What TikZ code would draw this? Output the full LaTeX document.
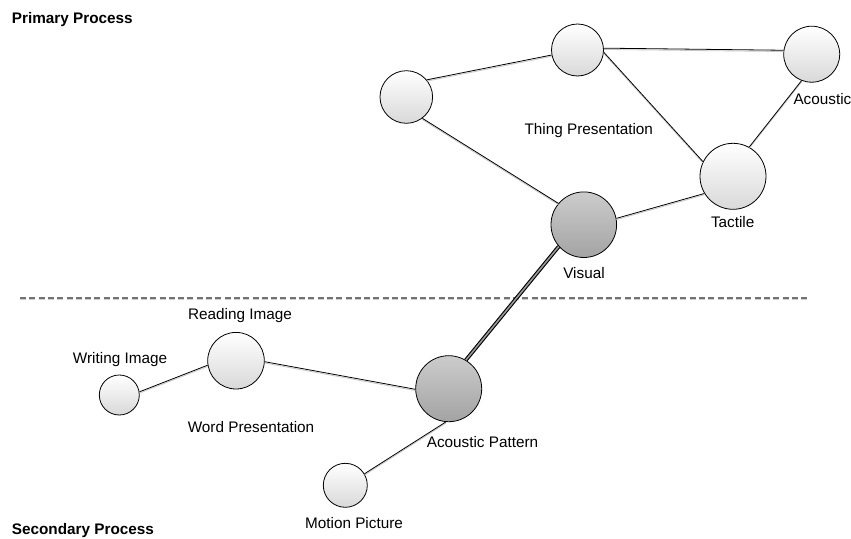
\documentclass[tikz,border=0pt]{standalone}
\usepackage{fontspec}
\setmainfont{Liberation Sans}
\begin{document}
\begin{tikzpicture}[x=1pt,y=-1pt,
  lbl/.style={inner sep=0pt, anchor=base, font=\fontsize{15.3}{18}\selectfont},
  hdr/.style={inner sep=0pt, anchor=base west, font=\fontsize{15.3}{18}\selectfont\bfseries},
  bubble/.style={circle, draw=black, line width=0.8pt, inner sep=0pt, minimum size=#1,
    top color=white, bottom color=black!15},
  hub/.style={circle, draw=black, line width=0.8pt, inner sep=0pt, minimum size=#1,
    top color=black!20, bottom color=black!36},
  link/.style={line width=0.8pt,
    preaction={draw=black!22, line width=0.8pt, transform canvas={yshift=-1.3pt}}},
  bond/.style={line width=1.1pt, double=black!40, double distance=1.6pt},
  divider/.style={line width=1.2pt, draw=black!55, dash pattern=on 6pt off 3.3pt,
    preaction={draw=black!20, line width=1.2pt, dash pattern=on 6pt off 3.3pt,
      transform canvas={yshift=-1.6pt}}}
]
\useasboundingbox (0,0) rectangle (851,538);
\fill[white] (0,0) rectangle (851,538);

% separator between the two processes
\coordinate (dl) at (20,298);
\coordinate (dr) at (809,298);
\draw[divider] (dl) -- (dr);

% primary process nodes
\node[bubble=52.6pt] (pl)  at (406.3,97)   {};
\node[bubble=52pt]   (pt)  at (577.5,50)   {};
\node[bubble=56pt]   (ac)  at (811.7,54.2) {};
\node[bubble=66pt]   (ta)  at (733,176.3)  {};
\node[hub=65.6pt]    (vi)  at (583.8,224.7) {};

% secondary process nodes
\node[bubble=40pt]   (wr)  at (119.3,395)  {};
\node[bubble=56.6pt] (rd)  at (236,360.7)  {};
\node[hub=66pt]      (ap)  at (448.7,388.7) {};
\node[bubble=44pt]   (mp)  at (345.3,485.3) {};

% connectors
\draw[link] (pl.40)  -- (pt.191);
\draw[link] (pl.-53) -- (vi.140);
\draw[link] (pt.4)   -- (ac.172);
\draw[link] (pt.-5)  -- (ta.154);
\draw[link] (ac.-111) -- (ta.61);
\draw[link] (ta.211) -- (vi.11);
\draw[link] (wr.9)   -- (rd.189);
\draw[link] (rd.-2)  -- (ap.181);
\draw[link] (ap.-95) -- (mp.31);
\draw[bond] (vi.221) -- (ap.59);

% labels
\node[hdr] (hp) at (11.7,23.8) {Primary Process};
\node[hdr] (hs) at (11.7,534) {Secondary Process};
\node[lbl] (lt)  at (588.8,134.8) {Thing Presentation};
\node[lbl, anchor=base west] (la) at (793.3,104.5) {Acoustic};
\node[lbl] (ltc) at (732.7,227.8) {Tactile};
\node[lbl] (lv)  at (584,278.8)   {Visual};
\node[lbl] (lr)  at (240,319.5)   {Reading Image};
\node[lbl] (lw)  at (120,363.5)   {Writing Image};
\node[lbl] (lwp) at (251,432.2)   {Word Presentation};
\node[lbl] (lap) at (482.5,447.8) {Acoustic Pattern};
\node[lbl] (lmp) at (354,528.2)   {Motion Picture};
\end{tikzpicture}
\end{document}
